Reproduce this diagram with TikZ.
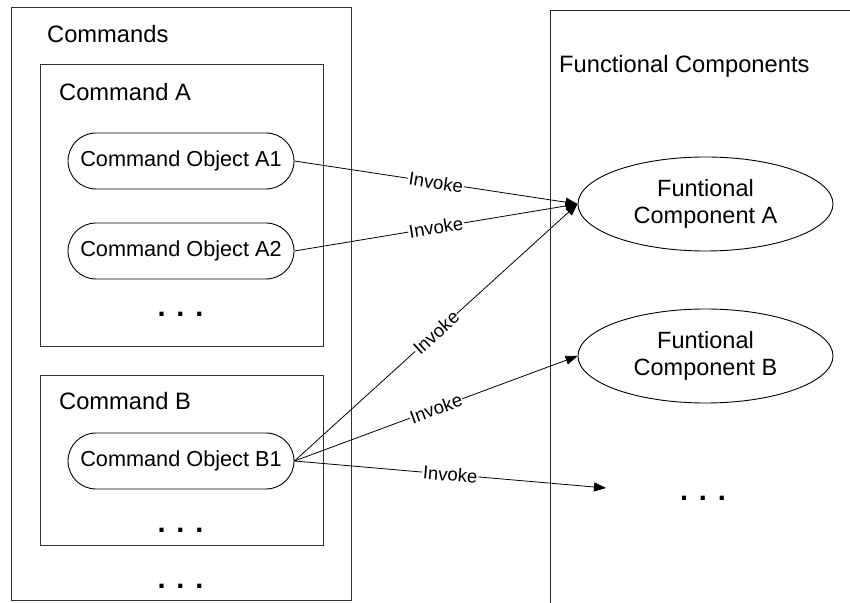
\documentclass[tikz,border=0pt]{standalone}
\usepackage{fontspec}
\setmainfont{Liberation Sans}
\usetikzlibrary{arrows.meta,shapes.misc,shapes.geometric}
\begin{document}
\begin{tikzpicture}[x=1pt,y=1pt,
 box/.style={draw=black!80,line width=1pt,rectangle,inner sep=0pt},
 lbl/.style={anchor=base west,font=\fontsize{23.7}{28}\selectfont,inner sep=0pt},
 cmdobj/.style={draw,line width=0.9pt,rounded rectangle,minimum width=226pt,minimum height=56pt,inner sep=0pt,font=\fontsize{21.7}{26}\selectfont},
 comp/.style={draw,line width=0.9pt,ellipse,minimum width=255pt,minimum height=94pt,inner sep=0pt,align=center,font=\fontsize{23.5}{27}\selectfont},
 dotsn/.style={anchor=base,inner sep=0pt,font=\fontsize{29}{30}\selectfont\bfseries},
 inv/.style={-{Triangle[length=12pt,width=9pt]},line width=0.8pt},
 invlbl/.style={sloped,fill=white,inner sep=0.8pt,font=\fontsize{18.5}{20}\selectfont}
]
\useasboundingbox (0,0) rectangle (850,602);
\clip (0,0) rectangle (850,602);
\fill[white] (0,0) rectangle (850,602);

% Commands
\node[box,minimum width=340pt,minimum height=592pt] (commands) at (181,298) {};
\node[lbl] (commandslbl) at (47,559) {Commands};
\node[box,minimum width=283pt,minimum height=282pt] (cmda) at (181.5,396) {};
\node[lbl] (cmdalbl) at (59,501) {Command A};
\node[cmdobj] (a1) at (181,441) {Command Object A1};
\node[cmdobj] (a2) at (181,351) {Command Object A2};
\node[dotsn] (dotsa) at (180.5,285) {. . .};
\node[box,minimum width=283pt,minimum height=169pt] (cmdb) at (181.5,141.5) {};
\node[lbl] (cmdblbl) at (59,192) {Command B};
\node[cmdobj] (b1) at (181,141) {Command Object B1};
\node[dotsn] (dotsb) at (180.5,70) {. . .};
\node[dotsn] (dotsc) at (180.5,14) {. . .};

% Functional components
\draw[black!85,line width=1pt] (860,591) -- (550,591) -- (550,-10);
\node[lbl] (fclbl) at (559,529) {Functional Components};
\node[comp] (fa) at (705.5,398) {Funtional\\Component A};
\node[comp] (fb) at (705.5,246) {Funtional\\Component B};
\node[dotsn] (dotsf) at (703,102) {. . .};
\coordinate (fdots) at (606,114);

% Connectors
\draw[inv] (a1.east) -- node[invlbl] {Invoke} (fa.west);
\draw[inv] (a2.east) -- node[invlbl] {Invoke} (fa.west);
\draw[inv] (b1.east) -- node[invlbl] {Invoke} (fa.west);
\draw[inv] (b1.east) -- node[invlbl] {Invoke} (fb.west);
\draw[inv] (b1.east) -- node[invlbl] {Invoke} (fdots);
\end{tikzpicture}
\end{document}
